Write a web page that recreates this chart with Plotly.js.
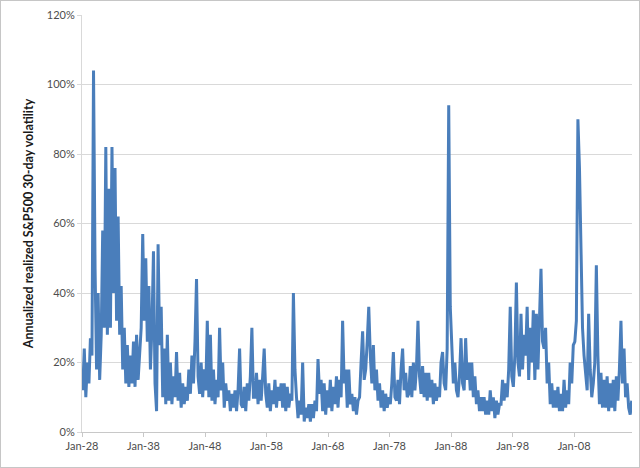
<!DOCTYPE html>
<html>
<head>
<meta charset="utf-8">
<script src="https://cdn.plot.ly/plotly-3.0.1.min.js"></script>
<style>
html,body{margin:0;padding:0;background:#fff;}
#wrap{position:relative;width:640px;height:468px;}
#chart{position:absolute;left:0;top:0;width:640px;height:468px;}
#frame{position:absolute;left:0;top:0;width:640px;height:468px;box-sizing:border-box;border:1px solid #c6c6c6;pointer-events:none;}
</style>
</head>
<body>
<div id="wrap"><div id="chart"></div><div id="frame"></div></div>
<script>
// Annualized realized S&P500 30-day volatility (%), four readings per year (Feb, May, Aug, Nov)
const startYear = 1928;
const vol1920s = [
  12, 24, 10, 20,   // 1928
  14, 27, 22, 104,  // 1929
  47, 18, 40, 15,   // 1930
  28, 58, 30, 82,   // 1931
  28, 70, 30, 82,   // 1932
  40, 76, 32, 62,   // 1933
  28, 42, 18, 30,   // 1934
  14, 25, 13, 22,   // 1935
  14, 26, 13, 28,   // 1936
  15, 24, 30, 57    // 1937
];
const vol1930s = [
  32, 50, 26, 42,   // 1938
  18, 30, 52, 14,   // 1939
  6, 54, 25, 36,    // 1940
  10, 24, 8, 28,    // 1941
  9, 20, 8, 16,     // 1942
  10, 23, 9, 17,    // 1943
  7, 14, 8, 13,     // 1944
  9, 18, 11, 22,    // 1945
  14, 26, 44, 16,   // 1946
  11, 20, 10, 18    // 1947
];
const vol1940s = [
  12, 32, 10, 28,   // 1948
  9, 18, 8, 15,     // 1949
  10, 30, 12, 20,   // 1950
  7, 14, 9, 12,     // 1951
  6, 11, 7, 12,     // 1952
  6, 12, 24, 8,     // 1953
  7, 13, 6, 14,     // 1954
  9, 16, 30, 10,    // 1955
  10, 17, 8, 15,    // 1956
  9, 16, 24, 11     // 1957
];
const vol1950s = [
  7, 14, 6, 12,     // 1958
  8, 15, 7, 13,     // 1959
  9, 14, 7, 14,     // 1960
  6, 13, 7, 11,     // 1961
  9, 40, 18, 10,    // 1962
  4, 9, 5, 20,      // 1963
  3, 7, 4, 8,       // 1964
  3, 8, 4, 9,       // 1965
  6, 21, 11, 15,    // 1966
  6, 14, 5, 12      // 1967
];
const vol1960s = [
  7, 15, 6, 13,     // 1968
  8, 16, 7, 15,     // 1969
  10, 32, 14, 18,   // 1970
  7, 18, 8, 11,     // 1971
  6, 10, 5, 9,      // 1972
  10, 20, 29, 15,   // 1973
  18, 26, 36, 22,   // 1974
  14, 25, 12, 18,   // 1975
  9, 14, 7, 12,     // 1976
  6, 11, 7, 10      // 1977
];
const vol1970s = [
  8, 14, 23, 10,    // 1978
  9, 15, 8, 18,     // 1979
  24, 12, 17, 10,   // 1980
  11, 19, 10, 20,   // 1981
  12, 18, 32, 16,   // 1982
  11, 19, 10, 17,   // 1983
  9, 17, 10, 15,    // 1984
  8, 14, 9, 13,     // 1985
  10, 20, 23, 14,   // 1986
  12, 24, 94, 36    // 1987
];
const vol1980s = [
  24, 14, 20, 12,   // 1988
  10, 16, 27, 14,   // 1989
  12, 27, 15, 20,   // 1990
  12, 20, 10, 16,   // 1991
  8, 12, 6, 10,     // 1992
  6, 10, 5, 9,      // 1993
  5, 12, 6, 10,     // 1994
  4, 9, 5, 8,       // 1995
  8, 15, 9, 14,     // 1996
  10, 18, 36, 16    // 1997
];
const vol1990s = [
  13, 22, 43, 20,   // 1998
  16, 34, 18, 28,   // 1999
  22, 36, 15, 30,   // 2000
  20, 35, 15, 34,   // 2001
  18, 30, 47, 26,   // 2002
  24, 30, 14, 20,   // 2003
  8, 14, 7, 12,     // 2004
  7, 13, 6, 11,     // 2005
  6, 15, 7, 12,     // 2006
  8, 20, 14, 25     // 2007
];
const vol2000s = [
  26, 32, 90, 76,   // 2008
  51, 30, 22, 16,   // 2009
  12, 34, 18, 10,   // 2010
  14, 20, 48, 22,   // 2011
  8, 17, 7, 15,     // 2012
  7, 16, 6, 14,     // 2013
  7, 15, 6, 16,     // 2014
  9, 18, 32, 14,    // 2015
  24, 10, 14, 7,    // 2016
  5, 9              // 2017
];
const yTickVals = [0, 0.2, 0.4, 0.6, 0.8, 1.0, 1.2];
const yTitle = 'Annualized realized S&P500 30-day volatility';

const vols = [].concat(vol1920s, vol1930s, vol1940s, vol1950s, vol1960s, vol1970s, vol1980s, vol1990s, vol2000s);
const months = ['02', '05', '08', '11'];
const x = vols.map((v, i) => (startYear + Math.floor(i / 4)) + '-' + months[i % 4] + '-15');
const y = vols.map(v => v / 100);

const trace = {
  x: x, y: y, type: 'scatter', mode: 'lines',
  line: {color: '#4a7ebb', width: 3},
  hoverinfo: 'x+y'
};

const layout = {
  width: 640, height: 468,
  margin: {l: 82, r: 8, t: 15, b: 36},
  paper_bgcolor: '#ffffff', plot_bgcolor: '#ffffff',
  showlegend: false,
  font: {family: 'Lato, "Open Sans", sans-serif', size: 11, color: '#595959'},
  xaxis: {
    type: 'date',
    range: ['1928-01-01', '2017-06-01'],
    tick0: '1928-01-01', dtick: 'M120', tickformat: '%b-%y',
    showgrid: false, zeroline: false,
    showline: true, linecolor: '#c8c8c8', linewidth: 1,
    ticks: 'outside', ticklen: 4, tickcolor: '#c8c8c8',
    tickfont: {size: 11, color: '#4d4d4d'}
  },
  yaxis: {
    range: [0, 1.2], tickvals: yTickVals, tickformat: '.0%',
    showgrid: true, gridcolor: '#d9d9d9', gridwidth: 1,
    zeroline: false,
    showline: true, linecolor: '#d9d9d9', linewidth: 1,
    ticks: 'outside', ticklen: 4, tickcolor: '#d9d9d9',
    tickfont: {size: 11, color: '#4d4d4d'},
    title: {text: yTitle, font: {family: 'Lato, sans-serif', size: 12.5, color: '#1a1a1a', weight: 'bold'}, standoff: 10}
  }
};

Plotly.newPlot('chart', [trace], layout, {displayModeBar: false, staticPlot: true});
</script>
</body>
</html>
